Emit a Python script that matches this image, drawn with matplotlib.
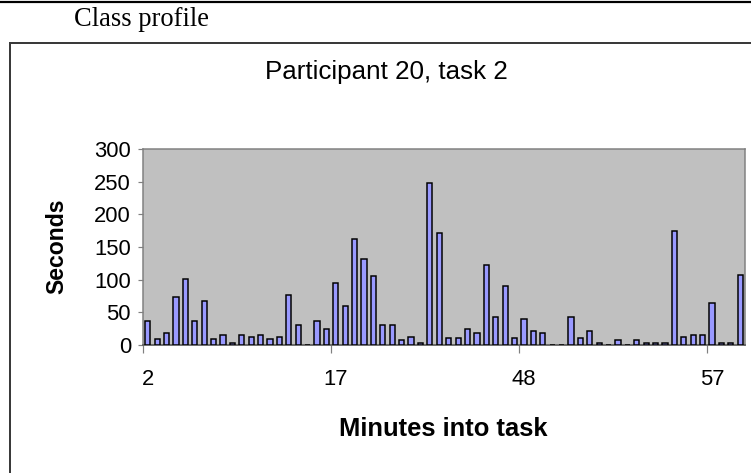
import matplotlib
matplotlib.use("Agg")
import matplotlib.pyplot as plt
from matplotlib.lines import Line2D
import numpy as np

# Seconds spent in each one-minute slot of the task
seconds = [37, 9, 18, 74, 101, 37, 68, 9, 16, 3, 15, 13, 15, 9, 12, 77,
           31, 0, 37, 25, 95, 59, 163, 132, 105, 31, 31, 7, 13, 3,
           248, 172, 10, 10, 25, 19, 123, 43, 90, 10,
           40, 22, 19, 0, 0, 43, 10, 22, 3, 0, 7, 0, 7, 3, 3, 3,
           175, 13, 16, 16, 65, 3, 3, 107]

# Category labels shown every 20 slots
tick_labels = ["2", "17", "48", "57"]
label_every = 20

y_ticks = [0, 50, 100, 150, 200, 250, 300]

W, H = 751, 473
DPI = 72
fig = plt.figure(figsize=(W / DPI, H / DPI), dpi=DPI)
fig.patch.set_facecolor("white")

def fx(px):
    return px / W

def fy(py):
    return 1 - py / H

# Page rule and heading above the chart frame
fig.add_artist(Line2D([0, 1], [fy(1.5), fy(1.5)], color="black", lw=2.2,
                      transform=fig.transFigure))
fig.text(fx(74), fy(19), "Class profile", family="Liberation Serif",
         fontsize=26.5, va="center", ha="left", color="black")

# Chart frame (continues past the right and bottom edges)
frame_color = "#3a3a3a"
fig.add_artist(Line2D([fx(10), 1.01], [fy(43), fy(43)], color=frame_color,
                      lw=2, transform=fig.transFigure))
fig.add_artist(Line2D([fx(10), fx(10)], [fy(43), -0.01], color=frame_color,
                      lw=2, transform=fig.transFigure))

left, right, top, bottom = 143, 745, 149, 345
ax = fig.add_axes([fx(left), fy(bottom), fx(right - left), (bottom - top) / H])
ax.set_facecolor("#C0C0C0")

x = np.arange(len(seconds))
ax.bar(x, seconds, width=0.55, color="#9999FF", edgecolor="black",
       linewidth=1.5, zorder=3)

ax.set_xlim(-0.5, len(seconds) - 0.5)
ax.set_ylim(0, 300)
ax.set_yticks(y_ticks)
ax.set_yticklabels([str(v) for v in y_ticks], family="Liberation Sans",
                   fontsize=22)

# Tick marks sit on category boundaries, labels on category centres
label_pos = np.arange(len(tick_labels)) * label_every
ax.set_xticks(label_pos - 0.5)
ax.set_xticklabels([])
ax.set_xticks(label_pos, minor=True)
ax.set_xticklabels(tick_labels, minor=True, family="Liberation Sans",
                   fontsize=22)
ax.tick_params(axis="x", which="major", direction="out", length=8,
               width=1.2, color="#808080")
ax.tick_params(axis="x", which="minor", length=0, pad=24)
ax.tick_params(axis="y", direction="out", length=5, width=1.2,
               color="#808080", pad=7)

for side in ("top", "right"):
    ax.spines[side].set_color("#808080")
    ax.spines[side].set_linewidth(1.5)
ax.spines["left"].set_color("#808080")
ax.spines["left"].set_linewidth(1.5)
ax.spines["bottom"].set_color("#606060")
ax.spines["bottom"].set_linewidth(1.8)

fig.text(fx(386), fy(72), "Participant 20, task 2", family="Liberation Sans",
         fontsize=26, ha="center", va="center")
fig.text(fx(443), fy(429), "Minutes into task", family="Liberation Sans",
         fontsize=25.5, weight="bold", ha="center", va="center")
fig.text(fx(57), fy(246), "Seconds", family="Liberation Sans",
         fontsize=23, weight="bold", ha="center", va="center", rotation=90)

fig.savefig("out.png", dpi=DPI, facecolor="white")
